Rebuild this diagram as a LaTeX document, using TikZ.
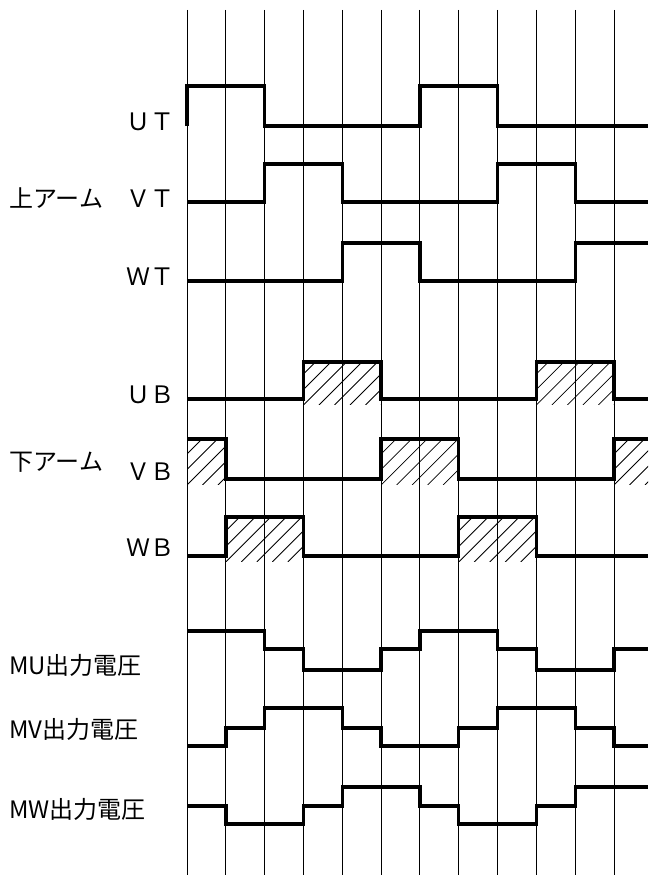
\documentclass[tikz,border=0pt]{standalone}
\usepackage{fontspec}
\setmainfont{Noto Sans CJK JP}
\begin{document}
\begin{tikzpicture}[x=1pt,y=-1pt,
  grid/.style={line width=1pt,black},
  sig/.style={line width=3.4pt,black,line join=miter},
  hatchline/.style={line width=0.8pt,black},
  lab/.style={font=\fontsize{24}{28}\selectfont,inner sep=0pt}]
\useasboundingbox (0,0) rectangle (648,875);
% grid
\foreach \k in {0,...,11}
  \draw[grid] ({187+38.82*\k},10) -- ({187+38.82*\k},875);
% hatching
\foreach \xa/\xb/\ya/\yb in {303.5/381.1/362/399, 536.4/614/362/399,
   187/225.8/439/479, 381.1/458.7/439/479, 614/648/439/479,
   225.8/303.5/517/556, 458.7/536.4/517/556}{
  \begin{scope}
    \clip (\xa,\ya) rectangle (\xb,\yb+5);
    \foreach \i in {-4,...,8}
      \draw[hatchline] ({\xa+15.5*\i},\yb+6) -- ({\xa+15.5*\i+60},\yb-54);
  \end{scope}
}
% signals
\draw[sig] (187,126) -- (187,86) -- (264.6,86) -- (264.6,126) -- (419.9,126) -- (419.9,86) -- (497.5,86) -- (497.5,126) -- (648,126);
\draw[sig] (187,202) -- (264.6,202) -- (264.6,164) -- (342.3,164) -- (342.3,202) -- (497.5,202) -- (497.5,164) -- (575.2,164) -- (575.2,202) -- (648,202);
\draw[sig] (187,281) -- (342.3,281) -- (342.3,243) -- (419.9,243) -- (419.9,281) -- (575.2,281) -- (575.2,243) -- (648,243);
\draw[sig] (187,399) -- (303.5,399) -- (303.5,362) -- (381.1,362) -- (381.1,399) -- (536.4,399) -- (536.4,362) -- (614,362) -- (614,399) -- (648,399);
\draw[sig] (187,439) -- (225.8,439) -- (225.8,479) -- (381.1,479) -- (381.1,439) -- (458.7,439) -- (458.7,479) -- (614,479) -- (614,439) -- (648,439);
\draw[sig] (187,556) -- (225.8,556) -- (225.8,517) -- (303.5,517) -- (303.5,556) -- (458.7,556) -- (458.7,517) -- (536.4,517) -- (536.4,556) -- (648,556);
\draw[sig] (187,631) -- (264.6,631) -- (264.6,649) -- (303.5,649) -- (303.5,670) -- (381.1,670) -- (381.1,649) -- (419.9,649) -- (419.9,631) -- (497.5,631) -- (497.5,649) -- (536.4,649) -- (536.4,670) -- (614,670) -- (614,649) -- (648,649);
\draw[sig] (187,746) -- (225.8,746) -- (225.8,728) -- (264.6,728) -- (264.6,708) -- (342.3,708) -- (342.3,728) -- (381.1,728) -- (381.1,746) -- (458.7,746) -- (458.7,728) -- (497.5,728) -- (497.5,708) -- (575.2,708) -- (575.2,728) -- (614,728) -- (614,746) -- (648,746);
\draw[sig] (187,806) -- (225.8,806) -- (225.8,824) -- (303.5,824) -- (303.5,806) -- (342.3,806) -- (342.3,787) -- (419.9,787) -- (419.9,806) -- (458.7,806) -- (458.7,824) -- (536.4,824) -- (536.4,806) -- (575.2,806) -- (575.2,787) -- (648,787);
% labels
\node[lab,anchor=east] (ut) at (175,122) {ＵＴ};
\node[lab,anchor=east] (vt) at (175,199) {ＶＴ};
\node[lab,anchor=east] (wt) at (175,277) {ＷＴ};
\node[lab,anchor=east] (ub) at (175,395) {ＵＢ};
\node[lab,anchor=east] (vb) at (175,472) {ＶＢ};
\node[lab,anchor=east] (wb) at (175,548) {ＷＢ};
\node[lab,anchor=west] (upper) at (9,198) {上アーム};
\node[lab,anchor=west] (lower) at (9,462) {下アーム};
\node[lab,anchor=west] (mu) at (9,665) {MU出力電圧};
\node[lab,anchor=west] (mv) at (9,729) {MV出力電圧};
\node[lab,anchor=west] (mw) at (9,809) {MW出力電圧};
\end{tikzpicture}
\end{document}
